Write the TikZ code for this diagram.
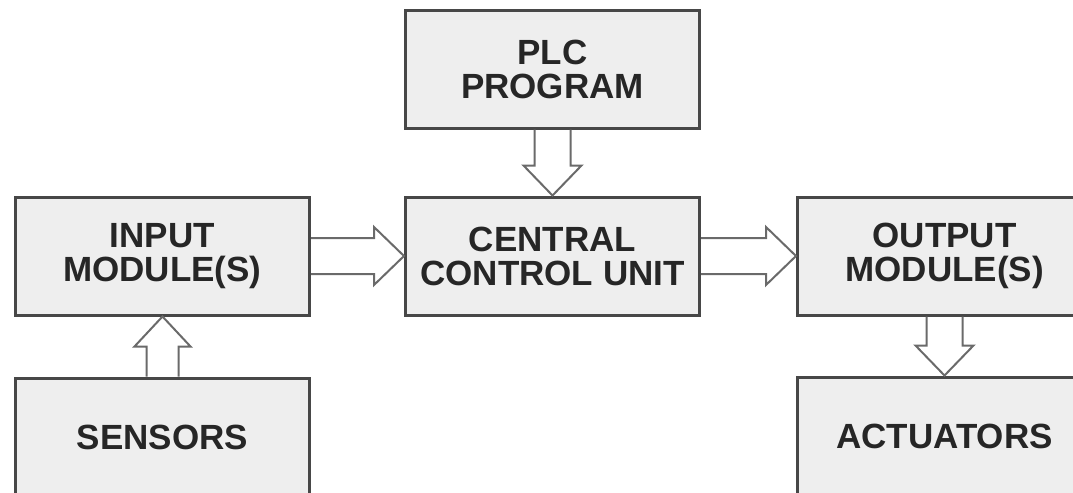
\documentclass[tikz,border=0pt]{standalone}
\usepackage{fontspec}
\setmainfont{Liberation Sans}
\usetikzlibrary{calc}
\definecolor{BoxFill}{HTML}{EEEEEE}
\definecolor{BoxEdge}{HTML}{474747}
\definecolor{ArrowGray}{HTML}{6A6A6A}

\begin{document}
\begin{tikzpicture}[x = .5pt, y = -.5pt,
  box/.style = {draw = BoxEdge, fill = BoxFill, line width = 1.5pt,
      minimum width = 147pt, minimum height = 59pt, inner sep = 0pt,
      align = center, text = black!85,
      font = \fontsize{17.5}{17}\selectfont\bfseries},
  hollow/.style = {draw = ArrowGray, line width = 1pt, line join = miter}
]
  \useasboundingbox (0, 0) rectangle (1073, 493);
  \clip (0, 0) rectangle (1073, 493);

  \node[box] (plc) at (552.5, 69) {PLC\\PROGRAM};
  \node[box] (ccu) at (552.5, 256) {CENTRAL\\CONTROL UNIT};
  \node[box] (input) at (162.5, 256) {INPUT\\MODULE(S)};
  \node[box] (output) at (944.5, 256) {OUTPUT\\MODULE(S)};
  \node[box] (sensors) at (162.5, 437) {SENSORS};
  \node[box] (actuators) at (944.5, 436) {ACTUATORS};

  % hollow arrows, left to right
  \foreach \a/\b in {input/ccu, ccu/output}
  \draw[hollow] ($(\a.east) + (0, -18)$) -- ($(\b.west) + (-30, -18)$)
    -- ($(\b.west) + (-30, -29)$) -- (\b.west) -- ($(\b.west) + (-30, 29)$)
    -- ($(\b.west) + (-30, 18)$) -- ($(\a.east) + (0, 18)$);

  % downwards
  \foreach \a/\b in {plc/ccu, output/actuators}
  \draw[hollow] ($(\a.south) + (-18, 0)$) -- ($(\b.north) + (-18, -30)$)
    -- ($(\b.north) + (-29, -30)$) -- (\b.north) -- ($(\b.north) + (29, -30)$)
    -- ($(\b.north) + (18, -30)$) -- ($(\a.south) + (18, 0)$);

  % upwards
  \draw[hollow] ($(sensors.north) + (-16, 0)$) -- ($(input.south) + (-16, 30)$)
    -- ($(input.south) + (-28, 30)$) -- (input.south) -- ($(input.south) + (28, 30)$)
    -- ($(input.south) + (16, 30)$) -- ($(sensors.north) + (16, 0)$);
\end{tikzpicture}
\end{document}
